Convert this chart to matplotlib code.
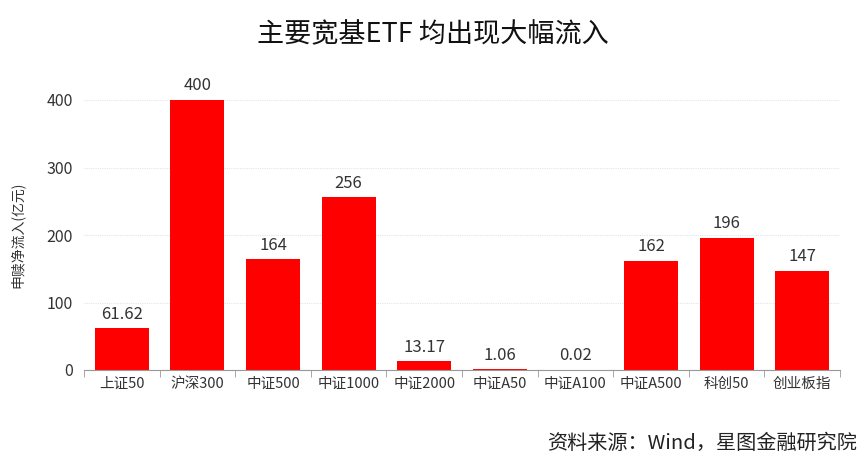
import matplotlib
matplotlib.use("Agg")
import matplotlib.pyplot as plt

plt.rcParams['font.family'] = ['Noto Sans CJK SC', 'DejaVu Sans']

categories = ['上证50', '沪深300', '中证500', '中证1000', '中证2000',
              '中证A50', '中证A100', '中证A500', '科创50', '创业板指']
values = [61.62, 400, 164, 256, 13.17, 1.06, 0.02, 162, 196, 147]
labels = ['61.62', '400', '164', '256', '13.17', '1.06', '0.02', '162', '196', '147']
yticks = [0, 100, 200, 300, 400]

fig = plt.figure(figsize=(8.65, 4.71), dpi=100)
ax = fig.add_axes([84 / 865, 1 - 370 / 471, 756 / 865, 270 / 471])

x = range(len(categories))
ax.bar(x, values, width=0.715, color='#ff0000', zorder=2)
for xi, v, lab in zip(x, values, labels):
    ax.annotate(lab, (xi, v), xytext=(0, 4), textcoords='offset points',
                ha='center', va='bottom', fontsize=12, color='#333333')

ax.set_xlim(-0.5, len(categories) - 0.5)
ax.set_ylim(0, 400)
ax.set_yticks(yticks)
ax.set_xticks(list(x))
ax.set_xticklabels(categories, fontsize=10.5, color='#333333')
ax.set_xticks([i - 0.5 for i in range(len(categories) + 1)], minor=True)
ax.tick_params(axis='x', which='major', length=0, pad=5)
ax.tick_params(axis='x', which='minor', length=5, color='#999999')
ax.tick_params(axis='y', length=0, labelsize=11.5, labelcolor='#333333', pad=8)
ax.grid(axis='y', color='#dfe6f0', linestyle=(0, (1, 1)), linewidth=0.8, zorder=0)

for s in ['top', 'right', 'left']:
    ax.spines[s].set_visible(False)
ax.spines['bottom'].set_color('#999999')

ax.set_ylabel('申赎净流入(亿元)', fontsize=10, color='#333333', labelpad=16)

fig.text(0.5, 1 - 35 / 471, '主要宽基ETF 均出现大幅流入', ha='center', va='center',
         fontsize=19.5, color='#111111')
fig.text(857 / 865, 1 - 443 / 471, '资料来源：Wind，星图金融研究院', ha='right', va='center',
         fontsize=14.5, color='#222222')

fig.savefig('out.png', dpi=100)
